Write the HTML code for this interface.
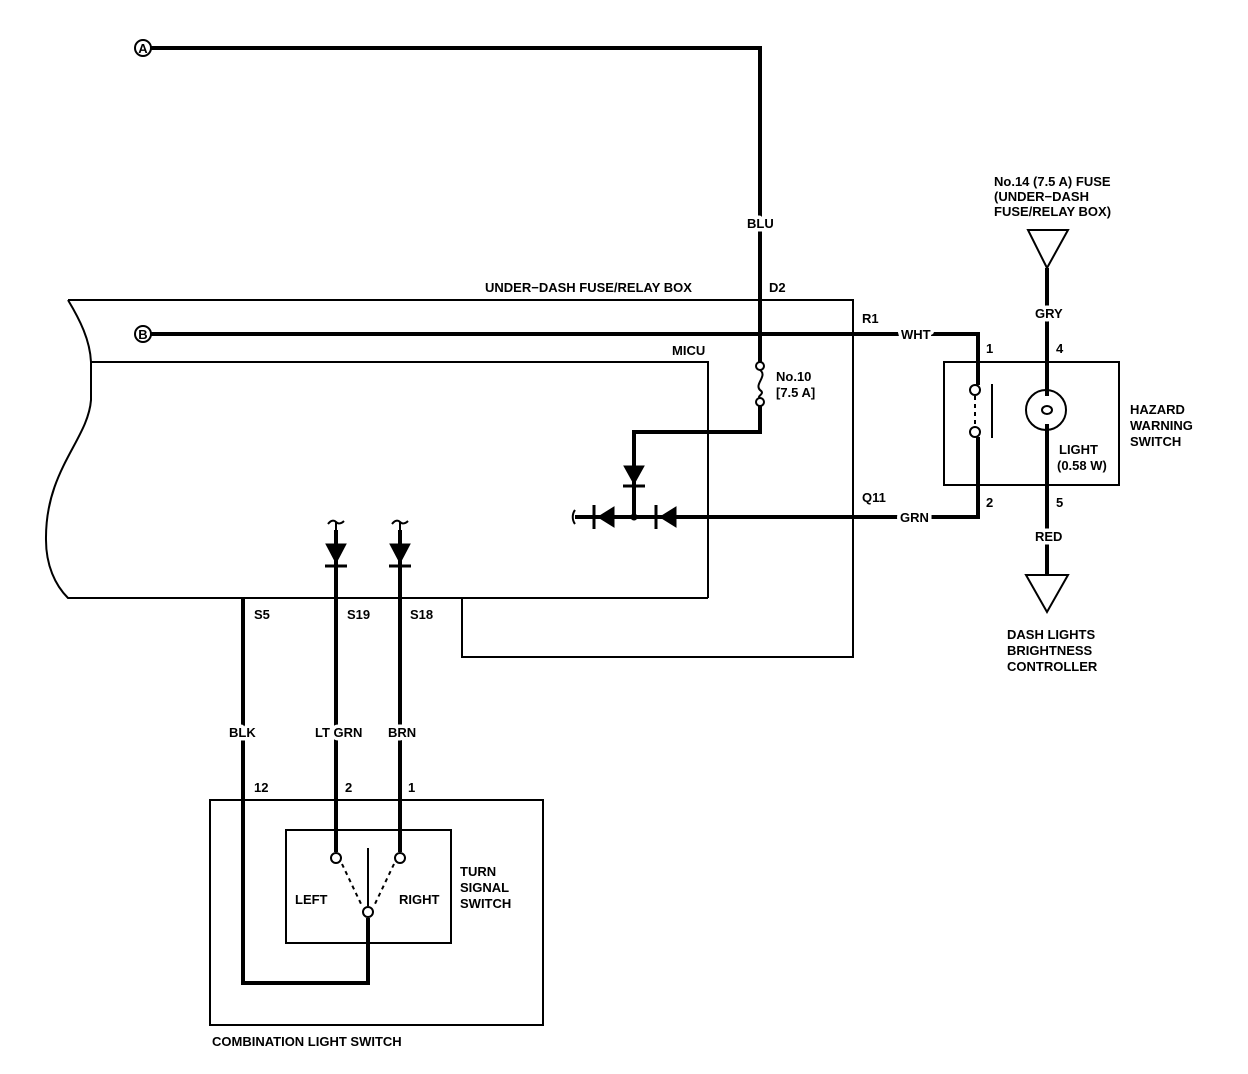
<!DOCTYPE html>
<html><head><meta charset="utf-8"><style>
html,body{margin:0;padding:0;background:#fff;}
svg{display:block;}
text{font-family:"Liberation Sans",sans-serif;font-weight:bold;font-size:13px;fill:#000;}
.w{stroke:#fff;stroke-width:7px;paint-order:stroke;stroke-linejoin:round;}
</style></head><body>
<svg width="1248" height="1074" viewBox="0 0 1248 1074" xmlns="http://www.w3.org/2000/svg">
<g fill="none" stroke="#000" stroke-width="2">
<path d="M68,300 L853,300 L853,657 L462,657 L462,598"/>
<path d="M68,300 C80,320 90,340 91,362 L91,400 C88,440 45,470 46,540 C46,565 55,585 68,598 L708,598"/>
<path d="M91,362 L708,362 L708,598"/>
<rect x="944" y="362" width="175" height="123"/>
<rect x="210" y="800" width="333" height="225"/>
<rect x="286" y="830" width="165" height="113"/>
</g>
<g fill="none" stroke="#000" stroke-width="4">
<path d="M150,48 L760,48 L760,362"/>
<path d="M760,402 L760,432 L634,432 L634,517"/>
<path d="M150,334 L978,334 L978,385"/>
<path d="M575,517 L978,517 L978,437"/>
<path d="M1047,268 L1047,396"/>
<path d="M1047,424 L1047,575"/>
<path d="M243,598 L243,983 L368,983 L368,918"/>
<path d="M336,530 L336,852"/>
<path d="M400,530 L400,852"/>
</g>
<g fill="none" stroke="#000" stroke-width="2">
<circle cx="760" cy="366" r="4" fill="#fff"/>
<circle cx="760" cy="402" r="4" fill="#fff"/>
<path d="M760,370 C768,376 754,384 760,390 C766,394 756,396 760,398"/>
<circle cx="975" cy="390" r="5" fill="#fff"/>
<circle cx="975" cy="432" r="5" fill="#fff"/>
<path d="M975,396 L975,426" stroke-dasharray="4,4"/>
<path d="M992,384 L992,438"/>
<circle cx="1046" cy="410" r="20"/>
<ellipse cx="1047" cy="410" rx="5" ry="4"/>
<path d="M1028,230 L1068,230 L1047,268 Z"/>
<path d="M1026,575 L1068,575 L1047,612 Z"/>
<circle cx="143" cy="48" r="8"/>
<circle cx="143" cy="334" r="8"/>
<circle cx="336" cy="858" r="5" fill="#fff"/>
<circle cx="400" cy="858" r="5" fill="#fff"/>
<circle cx="368" cy="912" r="5" fill="#fff"/>
<path d="M368,906 L368,848"/>
<path d="M342,864 L362,906 M394,864 L374,906" stroke-dasharray="4,4"/>
<path d="M328,524 C331,520 334,520 336,522 C338,524 341,524 344,521"/>
<path d="M392,524 C395,520 398,520 400,522 C402,524 405,524 408,521"/>
<path d="M336,522 L336,530 M400,522 L400,530"/>
<path d="M575,510 C572,514 572,520 575,524"/>
</g>
<g fill="#000" stroke="#000">
<path d="M624,466 L644,466 L634,484 Z"/>
<path d="M623,486 L645,486" stroke-width="3"/>
<circle cx="634" cy="517" r="3"/>
<path d="M676,507 L676,527 L660,517 Z"/>
<path d="M656,505 L656,529" stroke-width="3"/>
<path d="M614,507 L614,527 L598,517 Z"/>
<path d="M594,505 L594,529" stroke-width="3"/>
<path d="M326,544 L346,544 L336,563 Z"/>
<path d="M325,566 L347,566" stroke-width="3"/>
<path d="M390,544 L410,544 L400,563 Z"/>
<path d="M389,566 L411,566" stroke-width="3"/>
</g>
<text x="143" y="53" text-anchor="middle" font-size="11">A</text>
<text x="143" y="339" text-anchor="middle" font-size="11">B</text>
<text class="w" x="747" y="228">BLU</text>
<text x="485" y="292">UNDER−DASH FUSE/RELAY BOX</text>
<text x="769" y="292">D2</text>
<text x="862" y="323">R1</text>
<text class="w" x="901" y="339">WHT</text>
<text x="672" y="355">MICU</text>
<text x="776" y="381" font-size="12">No.10</text>
<text x="776" y="397" font-size="12">[7.5 A]</text>
<text x="862" y="502">Q11</text>
<text class="w" x="900" y="522">GRN</text>
<text x="994" y="186">No.14 (7.5 A) FUSE</text>
<text x="994" y="201">(UNDER−DASH</text>
<text x="994" y="216">FUSE/RELAY BOX)</text>
<text class="w" x="1035" y="318">GRY</text>
<text x="986" y="353">1</text>
<text x="1056" y="353">4</text>
<text x="986" y="507">2</text>
<text x="1056" y="507">5</text>
<text x="1059" y="454">LIGHT</text>
<text x="1057" y="470">(0.58 W)</text>
<text x="1130" y="414">HAZARD</text>
<text x="1130" y="430">WARNING</text>
<text x="1130" y="446">SWITCH</text>
<text class="w" x="1035" y="541">RED</text>
<text x="1007" y="639">DASH LIGHTS</text>
<text x="1007" y="655">BRIGHTNESS</text>
<text x="1007" y="671">CONTROLLER</text>
<text x="254" y="619">S5</text>
<text x="347" y="619">S19</text>
<text x="410" y="619">S18</text>
<text class="w" x="229" y="737">BLK</text>
<text class="w" x="315" y="737">LT GRN</text>
<text class="w" x="388" y="737">BRN</text>
<text x="254" y="792">12</text>
<text x="345" y="792">2</text>
<text x="408" y="792">1</text>
<text x="295" y="904">LEFT</text>
<text x="399" y="904">RIGHT</text>
<text x="460" y="876">TURN</text>
<text x="460" y="892">SIGNAL</text>
<text x="460" y="908">SWITCH</text>
<text x="212" y="1046">COMBINATION LIGHT SWITCH</text>
</svg>
</body></html>
